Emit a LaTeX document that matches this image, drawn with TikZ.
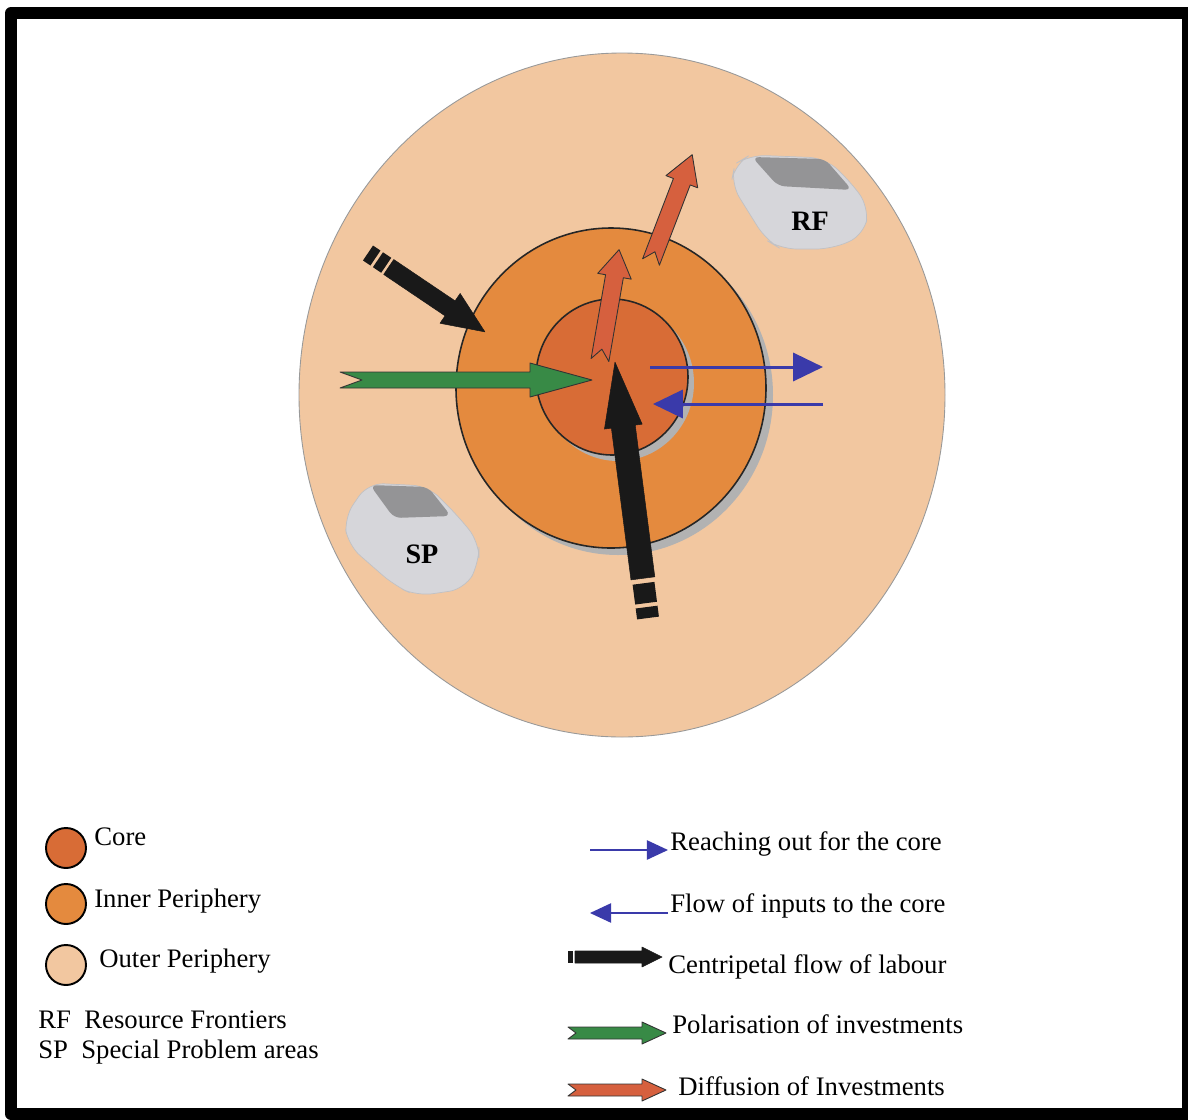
\documentclass[tikz,border=0pt]{standalone}
\usepackage{fontspec}
\setmainfont{Liberation Serif}
\usepackage{xcolor}
\usetikzlibrary{arrows.meta, calc}

\definecolor{outerper}{RGB}{242,199,160}
\definecolor{innerper}{RGB}{228,138,62}
\definecolor{corecol}{RGB}{216,108,54}
\definecolor{diffcol}{RGB}{214,96,62}
\definecolor{polcol}{RGB}{56,138,70}
\definecolor{reachcol}{RGB}{58,58,170}
\definecolor{blobcol}{RGB}{214,214,218}
\definecolor{blobtop}{RGB}{148,148,150}

\tikzset{
  ringline/.style={draw=black!85, line width=0.9pt},
  labour/.style={fill=black!90, draw=black!90, line width=0.3pt},
  polar/.style={fill=polcol, draw=black!80, line width=0.5pt},
  diffuse/.style={fill=diffcol, draw=black!80, line width=0.5pt},
  reach/.style={draw=reachcol, line width=1.7pt, -{Triangle[length=17pt, width=16pt]}},
  reachsmall/.style={draw=reachcol, line width=0.8pt, -{Triangle[length=12pt, width=11pt]}},
  blob/.style={fill=blobcol, draw=blobcol!90!black, line width=0.4pt, rounded corners=9pt},
  legendtext/.style={anchor=base west, inner sep=0pt, font=\fontsize{15.2}{17}\selectfont},
  blobtext/.style={inner sep=0pt, font=\fontsize{16}{18}\selectfont\bfseries}
}

% block arrow: style, tail, angle, shaft start, notch, length, shaft hw, head hw, head length
\newcommand{\flowarrow}[9]{%
  \begin{scope}[shift={(#2)}, rotate=#3]
    \filldraw[#1] (#4,-#7) -- ({#6-#9},-#7) -- ({#6-#9},-#8) -- (#6,0)
      -- ({#6-#9},#8) -- ({#6-#9},#7) -- (#4,#7) -- ({#4+#5},0) -- cycle;
  \end{scope}}

\begin{document}
\begin{tikzpicture}[x=0.02cm, y=-0.02cm, line join=round]
    \useasboundingbox (0,0) rectangle (1188,1120);

    % 1. Frame
    \draw[line width=6.8pt] (11,13) rectangle (1188,1114);

    % 2. Rings with their shadows
    \filldraw[fill=outerper, draw=black!40, line width=0.5pt]
        (622,395) ellipse [x radius=323, y radius=342];
    \fill[gray!60] (618,395) ellipse [x radius=155, y radius=160];
    \filldraw[fill=innerper, ringline] (611,388) ellipse [x radius=155, y radius=160];
    \fill[gray!60] (618,383) ellipse [x radius=76, y radius=78];
    \filldraw[fill=corecol, ringline] (612,377) ellipse [x radius=76, y radius=78];

    % 3. Resource frontier and special problem blocks
    \filldraw[blob] (750,155) -- (825,158) -- (849,180) -- (869,207) -- (864,235)
        -- (832,249) -- (781,249) -- (766,240) -- (731,184) -- (735,164) -- cycle;
    \fill[blobtop, rounded corners=4pt] (752,157) -- (825,159) -- (852,190) -- (778,186) -- cycle;
    \node[blobtext] (rf) at (810,221) {RF};

    \filldraw[blob] (368,483) -- (428,486) -- (458,516) -- (479,542) -- (479,563)
        -- (465,589) -- (417,596) -- (395,586) -- (348,545) -- (344,518) -- cycle;
    \fill[blobtop, rounded corners=4pt] (370,485) -- (428,487) -- (451,516) -- (394,518) -- cycle;
    \node[blobtext] (sp) at (422,554) {SP};

    % 4. Flows
    \flowarrow{polar}{340,380}{0}{0}{22}{252}{8}{17}{62}
    \flowarrow{labour}{368,253}{-34}{25}{0}{141}{9}{18}{42}
    \begin{scope}[shift={(368,253)}, rotate=-34]
        \foreach \a/\b in {0/9, 12/22} \fill[black!90] (\a,-9) rectangle (\b,9);
    \end{scope}
    \flowarrow{labour}{648,618}{97.35}{40}{0}{258}{12}{19}{65}
    \begin{scope}[shift={(648,618)}, rotate=97.35]
        \foreach \a/\b in {0/11, 15/35} \fill[black!90] (\a,-11) rectangle (\b,11);
    \end{scope}
    \flowarrow{diffuse}{600,360}{80.2}{0}{11}{112}{9}{17}{27}
    \flowarrow{diffuse}{651,262}{69}{0}{11}{115}{9}{17}{29}

    \draw[reach] (650,367) -- (823,367);
    \draw[reach] (823,404) -- (653,404);

    % 5. Legend, left column
    \filldraw[fill=corecol, draw=black, line width=1.1pt] (66,848) circle [radius=20];
    \filldraw[fill=innerper, draw=black, line width=1.1pt] (66,904) circle [radius=20];
    \filldraw[fill=outerper, draw=black, line width=1.1pt] (66,965) circle [radius=20];
    \node[legendtext] (lcore) at (94,845) {Core};
    \node[legendtext] (linner) at (94,907) {Inner Periphery};
    \node[legendtext] (louter) at (99,967) {Outer Periphery};
    \node[legendtext] (lrf) at (38,1028) {RF~~Resource Frontiers};
    \node[legendtext] (lsp) at (38,1058) {SP~~Special Problem areas};

    % 6. Legend, right column
    \draw[reachsmall] (590,850) -- (668,850);
    \draw[reachsmall] (668,913) -- (590,913);
    \flowarrow{labour}{568,957}{0}{7}{0}{94}{6}{10}{20}
    \fill[black!90] (568,951) rectangle (573,963);
    \flowarrow{polar}{568,1033}{0}{0}{8}{98}{6}{11}{24}
    \flowarrow{diffuse}{568,1090}{0}{0}{8}{98}{6}{11}{24}
    \node[legendtext] (lreach) at (670,850) {Reaching out for the core};
    \node[legendtext] (linputs) at (670,912) {Flow of inputs to the core};
    \node[legendtext] (llabour) at (668,973) {Centripetal flow of labour};
    \node[legendtext] (lpolar) at (672,1033) {Polarisation of investments};
    \node[legendtext] (ldiff) at (678,1095) {Diffusion of Investments};
\end{tikzpicture}
\end{document}
